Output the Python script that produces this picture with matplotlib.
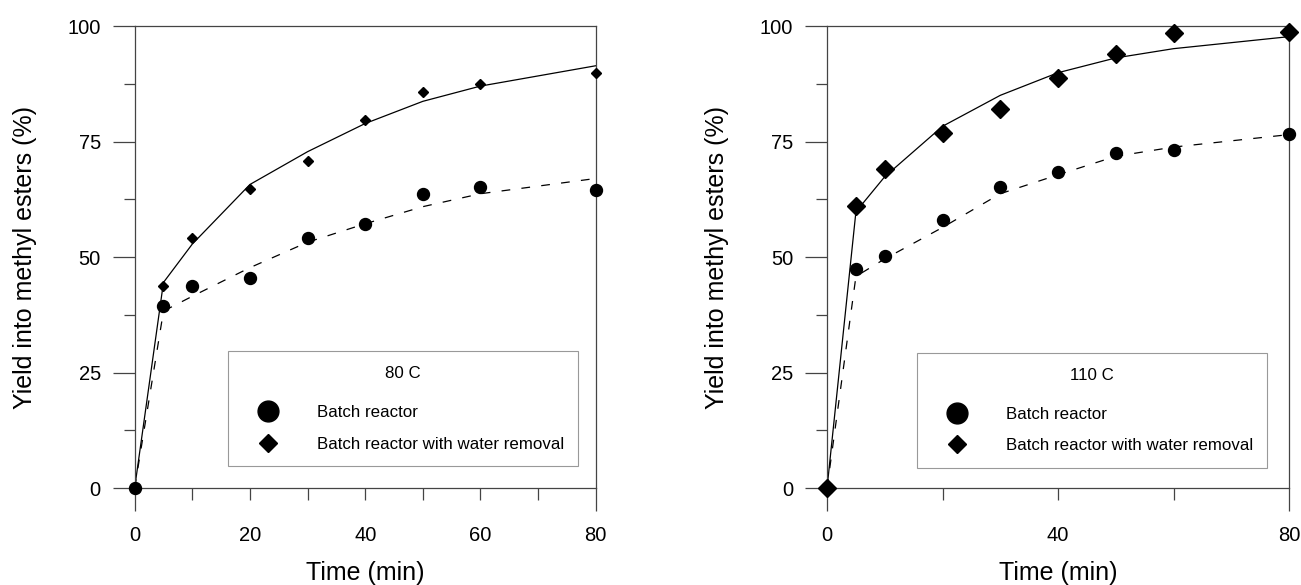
"""Yield into methyl esters vs time, batch reactor with/without water removal"""
import matplotlib
matplotlib.use('Agg')
import matplotlib.pyplot as plt
from matplotlib.lines import Line2D

plt.rcParams['font.family'] = ['Liberation Sans', 'DejaVu Sans']

time_min = [0, 5, 10, 20, 30, 40, 50, 60, 80]

# 80 C panel
batch_80 = [0, 39.4, 43.7, 45.5, 54.2, 57.2, 63.7, 65.1, 64.5]
water_80 = [0, 43.7, 54.2, 64.8, 70.8, 79.7, 85.7, 87.4, 89.9]
batch_fit_80 = [0, 38.3, 41.5, 47.7, 53.2, 57.2, 60.9, 63.7, 67.0]
water_fit_80 = [0, 44.5, 52.8, 65.7, 72.8, 78.9, 83.7, 87.0, 91.4]

# 110 C panel
batch_110 = [0, 47.5, 50.3, 58.1, 65.1, 68.3, 72.5, 73.1, 76.7]
water_110 = [0, 61.1, 69.0, 76.9, 82.1, 88.8, 93.9, 98.4, 98.8]
batch_fit_110 = [0, 45.8, 49.6, 56.4, 63.7, 67.8, 71.8, 73.8, 76.5]
water_fit_110 = [0, 59.8, 67.4, 78.3, 85.0, 89.9, 93.1, 95.1, 97.7]

xticks_80 = [0, 10, 20, 30, 40, 50, 60, 70, 80]
xticklabels_80 = ['0', '', '20', '', '40', '', '60', '', '80']
xticks_110 = [0, 20, 40, 60, 80]
xticklabels_110 = ['0', '', '40', '', '80']
yticks = [0, 25, 50, 75, 100]
yticks_minor = [12.5, 37.5, 62.5, 87.5]

series_labels = ['Batch reactor', 'Batch reactor with water removal']

SPINE = '#444444'


def draw_panel(ax, batch, water, batch_fit, water_fit, xticks, xticklabels,
               title, anchor, ms_circle, ms_diamond):
    ax.plot(time_min, water_fit, color='k', lw=0.9, zorder=2)
    ax.plot(time_min, batch_fit, color='k', lw=0.9, dashes=(7, 9), zorder=2)
    ax.plot(time_min, batch, 'o', color='k', ms=ms_circle, ls='none',
            clip_on=False, zorder=3)
    ax.plot(time_min, water, 'D', color='k', ms=ms_diamond, ls='none',
            clip_on=False, zorder=3)

    ax.set_xlim(0, 80)
    ax.set_ylim(0, 100)

    for side in ['left', 'right', 'top', 'bottom']:
        ax.spines[side].set_color(SPINE)
        ax.spines[side].set_linewidth(0.9)

    ax.set_xticks(xticks)
    ax.set_xticklabels(xticklabels)
    ax.set_yticks(yticks)
    ax.set_yticks(yticks_minor, minor=True)
    ax.tick_params(axis='x', which='major', direction='out', length=8.6,
                   width=0.9, color=SPINE, pad=19, labelsize=14.5)
    ax.tick_params(axis='y', which='major', direction='out', length=15.8,
                   width=0.9, color=SPINE, pad=8.6, labelsize=14.5)
    ax.tick_params(axis='y', which='minor', direction='out', length=7.9,
                   width=0.9, color=SPINE)
    # the end ticks run on as long as the y major ticks
    xt = ax.xaxis.get_major_ticks()
    xt[0].tick1line.set_markersize(16.6)
    xt[-1].tick1line.set_markersize(16.6)

    ax.set_xlabel('Time (min)', fontsize=18)
    ax.set_ylabel('Yield into methyl esters (%)', fontsize=18)
    ax.xaxis.set_label_coords(0.5, -0.157)
    ax.xaxis.label.set_va('top')
    ax.yaxis.set_label_coords(-0.212, 0.5)

    handles = [Line2D([], [], marker='o', ls='none', color='k', ms=15),
               Line2D([], [], marker='D', ls='none', color='k', ms=9.5)]
    leg = ax.legend(handles, series_labels, title=title, loc='upper left',
                    bbox_to_anchor=anchor, borderaxespad=0, fontsize=12.2,
                    title_fontsize=12.2, handlelength=3.0,
                    handletextpad=1.38, borderpad=0.85, labelspacing=0.97,
                    fancybox=False, framealpha=1, edgecolor='#999999')
    leg.get_frame().set_linewidth(0.8)
    # more room between the title and the entries
    leg._legend_box.sep = 17.6
    return ax


fig = plt.figure(figsize=(13.01, 5.85), dpi=100)
ax1 = fig.add_axes([0.1035, 0.1658, 0.3544, 0.7897])
ax2 = fig.add_axes([0.6357, 0.1658, 0.3551, 0.7897])

draw_panel(ax1, batch_80, water_80, batch_fit_80, water_fit_80,
           xticks_80, xticklabels_80, '80 C', (0.2023, 0.2955), 8.6, 5.1)
draw_panel(ax2, batch_110, water_110, batch_fit_110, water_fit_110,
           xticks_110, xticklabels_110, '110 C', (0.1948, 0.292), 8.6, 8.7)

fig.savefig('out.png', dpi=100)
